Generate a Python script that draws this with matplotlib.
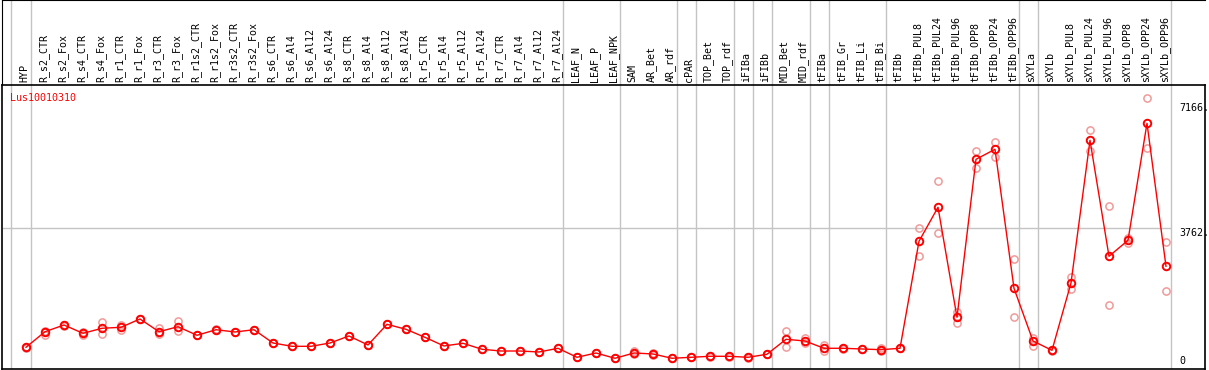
import matplotlib
matplotlib.use("Agg")
import matplotlib.pyplot as plt
import numpy as np

gene = "Lus10010310"

samples = ["HYP", "R_s2_CTR", "R_s2_Fox", "R_s4_CTR", "R_s4_Fox", "R_r1_CTR", "R_r1_Fox",
           "R_r3_CTR", "R_r3_Fox", "R_r1s2_CTR", "R_r1s2_Fox", "R_r3s2_CTR", "R_r3s2_Fox",
           "R_s6_CTR", "R_s6_Al4", "R_s6_Al12", "R_s6_Al24", "R_s8_CTR", "R_s8_Al4",
           "R_s8_Al12", "R_s8_Al24", "R_r5_CTR", "R_r5_Al4", "R_r5_Al12", "R_r5_Al24",
           "R_r7_CTR", "R_r7_Al4", "R_r7_Al12", "R_r7_Al24", "LEAF_N", "LEAF_P", "LEAF_NPK",
           "SAM", "AR_Bet", "AR_rdf", "cPAR", "TOP_Bet", "TOP_rdf", "iFIBa", "iFIBb",
           "MID_Bet", "MID_rdf", "tFIBa", "tFIB_Gr", "tFIB_Li", "tFIB_Bi", "tFIBb",
           "tFIBb_PUL8", "tFIBb_PUL24", "tFIBb_PUL96", "tFIBb_OPP8", "tFIBb_OPP24",
           "tFIBb_OPP96", "sXYLa", "sXYLb", "sXYLb_PUL8", "sXYLb_PUL24", "sXYLb_PUL96",
           "sXYLb_OPP8", "sXYLb_OPP24", "sXYLb_OPP96"]

mean_expr = [520, 945, 1127, 901, 1038, 1065, 1291, 945, 1081, 847, 999, 937, 999,
             637, 547, 547, 637, 828, 583, 1146, 1010, 792, 556, 629, 466,
             419, 419, 392, 493, 248, 365, 221, 365, 338, 221, 248, 275, 275, 248, 330,
             738, 692, 493, 493, 474, 455, 493,
             3407, 4333, 1337, 5640, 5912, 2127, 692, 438,
             2271, 6157, 2998, 3434, 6620, 2726]

rep_a = [510, 972, 1140, 945, 1201, 1127, 1300, 1038, 1228, 850, 1005, 940, 1000,
         640, 550, 550, 640, 830, 585, 1150, 1012, 795, 558, 632, 468,
         420, 420, 394, 495, 250, 368, 223, 428, 360, 223, 250, 290, 290, 265, 332,
         964, 782, 575, 500, 476, 509, 495,
         3761, 5041, 1473, 5866, 6103, 2917, 782, 445,
         2426, 6430, 4360, 3352, 7301, 3396]

rep_b = [530, 855, 1110, 855, 882, 991, 1280, 882, 972, 845, 995, 935, 998,
         635, 545, 545, 635, 826, 581, 1142, 1008, 790, 554, 626, 464,
         418, 418, 390, 491, 246, 362, 219, 338, 320, 219, 246, 260, 260, 235, 328,
         520, 629, 419, 486, 472, 420, 491,
         3015, 3625, 1190, 5411, 5694, 1353, 564, 430,
         2108, 5866, 1664, 3510, 5939, 2045]

# last sample index of each group (grey separators)
group_ends = [0, 28, 31, 34, 35, 37, 38, 39, 41, 42, 45, 52, 53, 60]
tick_values = [7166, 3762, 0]

W, H = 1209, 370
fig = plt.figure(figsize=(W / 100, H / 100), dpi=100)
mono = "DejaVu Sans Mono"
grey = "#c4c4c4"

x = np.arange(len(samples))
xlim = ((2 - 26) / 19, (1205 - 26) / 19)
seps = [-0.77] + [g + 0.24 for g in group_ends]

# header with rotated sample names
hdr = fig.add_axes([2 / W, (H - 85) / H, 1203 / W, 85 / H])
hdr.set_xlim(*xlim)
hdr.set_ylim(0, 1)
for s in ["right", "bottom"]:
    hdr.spines[s].set_visible(False)
hdr.set_xticks([])
hdr.set_yticks([])
for sx in seps:
    hdr.axvline(sx, color=grey, lw=1)
for i, name in enumerate(samples):
    hdr.text(i - 0.08, 0.03, name, rotation=90, ha="center", va="bottom",
             family=mono, fontsize=7.2)

# expression plot
ax = fig.add_axes([2 / W, 1 / H, 1203 / W, 284 / H])
ax.set_xlim(*xlim)
ax.set_ylim(-71, 7663)
ax.set_xticks([])
ax.set_yticks([])
for s in ax.spines.values():
    s.set_linewidth(1.2)
for sx in seps:
    ax.axvline(sx, color=grey, lw=1, zorder=0)
ax.hlines(tick_values[1], xlim[0], seps[-1], color=grey, lw=1, zorder=0)

ax.plot(x, rep_a, "o", ms=5.2, mfc="none", mec="#f09a9a", mew=1.1, zorder=2)
ax.plot(x, rep_b, "o", ms=5.2, mfc="none", mec="#f09a9a", mew=1.1, zorder=2)
ax.plot(x, mean_expr, "-", color="red", lw=1, zorder=3)
ax.plot(x, mean_expr, "o", ms=5.4, mfc="none", mec="red", mew=1.4, zorder=4)

ax.text(0.0066, 0.972, gene, transform=ax.transAxes, color="red",
        family=mono, fontsize=7.2, va="top", ha="left")

tx = (1179 - 2) / 1203
ax.text(tx, tick_values[0], "%d." % tick_values[0], transform=ax.get_yaxis_transform(),
        family=mono, fontsize=7.2, va="top", ha="left")
ax.text(tx, tick_values[1], "%d." % tick_values[1], transform=ax.get_yaxis_transform(),
        family=mono, fontsize=7.2, va="top", ha="left")
ax.text(tx, tick_values[2], "%d" % tick_values[2], transform=ax.get_yaxis_transform(),
        family=mono, fontsize=7.2, va="bottom", ha="left")

fig.savefig("out.png", dpi=100)
